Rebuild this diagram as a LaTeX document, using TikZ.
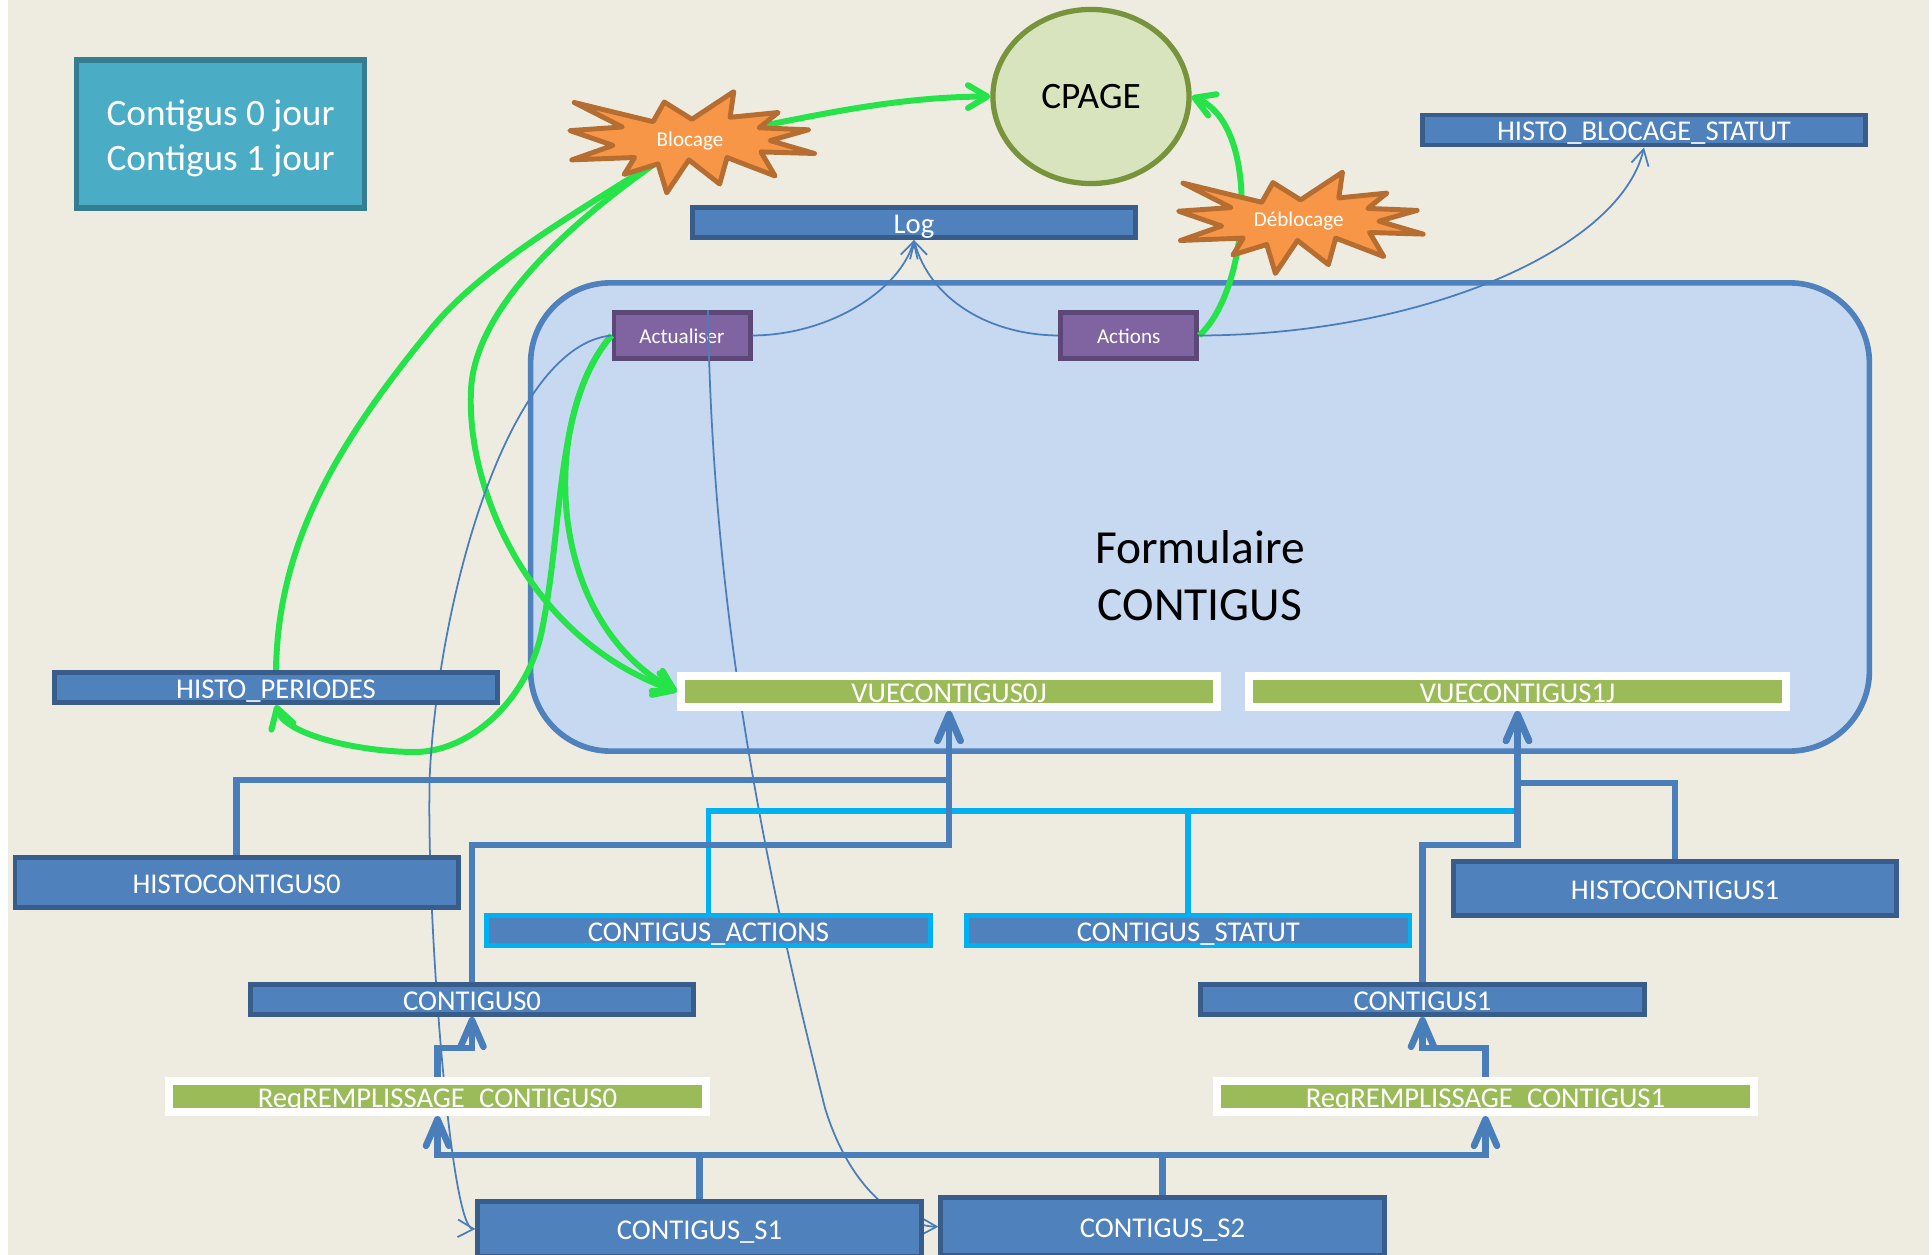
\documentclass[tikz,border=0pt]{standalone}
\usepackage{fontspec}
\setmainfont{Carlito}
\usetikzlibrary{arrows.meta, shapes.geometric}
\definecolor{pagebg}{HTML}{EEECE1}
\definecolor{boxblue}{HTML}{4F81BD}
\definecolor{boxline}{HTML}{385D8A}
\definecolor{wireblue}{HTML}{4A7EBB}
\definecolor{formfill}{HTML}{C6D9F1}
\definecolor{skyline}{HTML}{00B0F0}
\definecolor{viewgreen}{HTML}{9BBB59}
\definecolor{arrowgreen}{HTML}{27E34A}
\definecolor{purplefill}{HTML}{8064A2}
\definecolor{purpleline}{HTML}{5C4776}
\definecolor{tealfill}{HTML}{4BACC6}
\definecolor{tealline}{HTML}{357D91}
\definecolor{burstfill}{HTML}{F79646}
\definecolor{burstline}{HTML}{B66D31}
\definecolor{cpagefill}{HTML}{D7E4BD}
\definecolor{cpageline}{HTML}{77933C}
\tikzset{
  tablebox/.style={rectangle, draw=boxline, fill=boxblue, line width=1.4pt, text=white, inner sep=0pt,
    minimum width=4.43cm, minimum height=.30cm, text height=6.4pt, text depth=.4pt, font=\fontsize{8.15}{9.5}\selectfont},
  bigbox/.style={tablebox, minimum height=#1},
  skybox/.style={tablebox, draw=skyline},
  viewbox/.style={tablebox, draw=white, fill=viewgreen, line width=2.3pt, minimum width=5.36cm, minimum height=.31cm},
  formbox/.style={tablebox, draw=purpleline, fill=purplefill, minimum width=1.36cm,
    minimum height=.46cm, text height=5.1pt, text depth=.5pt, font=\fontsize{6}{7.5}\selectfont},
  bursttext/.style={text=white, inner sep=0pt, text height=4pt, text depth=.5pt, font=\fontsize{6}{7}\selectfont},
  thickwire/.style={draw=wireblue, line width=1.9pt, -{Straight Barb[length=7.5pt,width=6.5pt,round]}},
  busline/.style={draw=wireblue, line width=1.9pt},
  skywire/.style={draw=skyline, line width=1.7pt},
  thinwire/.style={draw=wireblue, line width=.5pt, -{Straight Barb[length=4.5pt,width=5pt]}},
  greenline/.style={draw=arrowgreen, line width=1.7pt},
  greenwire/.style={greenline, -{Straight Barb[length=5.5pt,width=6.5pt,round]}}
}
\pgfdeclarelayer{base}
\pgfdeclarelayer{wires}
\pgfsetlayers{base,wires,main}

\begin{document}
\begin{tikzpicture}[x=.01cm,y=-.01cm]
\tikzset{
  burst/.pic={\filldraw[draw=burstline, fill=burstfill, line width=1.4pt, line join=round]
    (-115.8,-37.5) -- (-36.9,-18.3) -- (-25.8,-38) -- (1.9,-20.7) -- (43.8,-48.4) -- (40.1,-22.7)
    -- (88.2,-27.5) -- (69.1,-12.2) -- (118.4,-10.2) -- (80.2,.6) -- (124.5,13.5) -- (70.9,11.9)
    -- (85.1,36) -- (37,17.5) -- (29.7,44) -- (-1.2,19.9) -- (-23.3,52.8) -- (-32,23.9)
    -- (-65.8,34.4) -- (-55.4,17.5) -- (-118.2,19.9) -- (-77,5.4) -- (-120.1,-9.4) -- (-67.7,-13) -- cycle;}
}
\useasboundingbox (0,0) rectangle (1932,1255);

\begin{pgfonlayer}{base}
\fill[pagebg] (8,0) rectangle (1929,1255);
\node[draw=boxblue, fill=formfill, line width=1.6pt, rounded corners=.8cm, minimum width=13.38cm, minimum height=4.68cm] (form) at (1200,517) {};
\node[formbox] (actualiser) at (682,335.5) {Actualiser};
\node[formbox] (actions) at (1128.7,335.5) {Actions};
\end{pgfonlayer}

\node[font=\fontsize{13.5}{16.2}\selectfont, align=center] (formtext) at (1200,575.5) {Formulaire\\CONTIGUS};
\node[rectangle, draw=tealline, fill=tealfill, line width=1.5pt, inner sep=0pt,
  minimum width=2.88cm, minimum height=1.48cm] (legend) at (220.6,134) {};
\node[text=white, align=center, font=\fontsize{10.6}{12.8}\selectfont] (legendtext) at (220.6,138) {Contigus 0 jour\\Contigus 1 jour};
\node[ellipse, draw=cpageline, fill=cpagefill, line width=1.5pt, inner sep=0pt, minimum width=1.96cm, minimum height=1.74cm,
  text height=6.6pt, text depth=0pt, font=\fontsize{10.6}{12}\selectfont] (cpage) at (1091,96.5) {CPAGE};

\pic at (690,140) {burst};
\node[bursttext] (blocage) at (690,140) {Blocage};
\pic at (1298.7,220.6) {burst};
\node[bursttext] (deblocage) at (1298.7,220.6) {Déblocage};

\node[tablebox] (log) at (914,222.5) {Log};
\node[tablebox] (histoblocage) at (1644,130) {HISTO\_BLOCAGE\_STATUT};
\node[tablebox] (histoperiodes) at (276,687.5) {HISTO\_PERIODES};
\node[viewbox] (vue0) at (949,691.5) {VUECONTIGUS0J};
\node[viewbox] (vue1) at (1517.5,691.5) {VUECONTIGUS1J};
\node[bigbox=.50cm] (histo0) at (236.6,882.5) {HISTOCONTIGUS0};
\node[bigbox=.54cm] (histo1) at (1675,888.5) {HISTOCONTIGUS1};
\node[skybox] (tblactions) at (708.5,930.5) {CONTIGUS\_ACTIONS};
\node[skybox] (tblstatut) at (1188.4,930.5) {CONTIGUS\_STATUT};
\node[tablebox] (contigus0) at (472,999.5) {CONTIGUS0};
\node[tablebox] (contigus1) at (1422.5,999.5) {CONTIGUS1};
\node[viewbox] (req0) at (437.5,1096.5) {ReqREMPLISSAGE\_CONTIGUS0};
\node[viewbox] (req1) at (1485.5,1096.5) {ReqREMPLISSAGE\_CONTIGUS1};
\node[bigbox=.55cm] (s1) at (699.5,1229) {CONTIGUS\_S1};
\node[bigbox=.58cm] (s2) at (1162.5,1226.7) {CONTIGUS\_S2};

\begin{pgfonlayer}{wires}
\draw[greenwire] (blocage.center) .. controls (790,122) and (880,97) .. (cpage.west);
\draw[greenline] (blocage.center) .. controls (600,200) and (490,257) .. (431,329)
  .. controls (340,440) and (278,540) .. (histoperiodes.north);
\draw[greenwire] (blocage.center) .. controls (590,205) and (475,300) .. (471,390)
  .. controls (466,490) and (530,640) .. (vue0.west);
\draw[greenwire] (actualiser.west) .. controls (540,420) and (545,620) .. (vue0.west);
\draw[greenwire] (actualiser.west) .. controls (555,400) and (564,520) .. (542,630)
  .. controls (528,700) and (470,752) .. (415,752)
  .. controls (360,752) and (285,735) .. (histoperiodes.south);
\draw[greenwire] (actions.east) .. controls (1250,290) and (1262,125) .. (cpage.east);

\draw[thinwire] (actualiser.east) .. controls (830,335) and (900,290) .. (log.south);
\draw[thinwire] (actions.west) .. controls (990,335) and (930,300) .. (log.south);
\draw[thinwire] (actions.east) .. controls (1420,335) and (1620,250) .. (histoblocage.south);
\draw[thinwire] (actualiser.west) .. controls (510,345) and (440,590) .. (430,770)
  .. controls (425,900) and (450,1228) .. (s1.west);
\draw[thinwire] ([xshift=.26cm]actualiser.north) .. controls (712,600) and (760,850) .. (825,1108)
  .. controls (850,1190) and (900,1226) .. (s2.west);
\end{pgfonlayer}

\draw[skywire] (tblactions.north) |- (vue1.south |- 0,811);
\draw[skywire] (tblstatut.north) -- (tblstatut.north |- 0,811);

\draw[thickwire] (histo0.north) |- (vue0.south |- 0,780) -- (vue0.south);
\draw[thickwire] (contigus0.north) |- (vue0.south |- 0,845) -- (vue0.south);
\draw[thickwire] (contigus1.north) |- (vue1.south |- 0,845) -- (vue1.south);
\draw[thickwire] (histo1.north) |- (vue1.south |- 0,783) -- (vue1.south);
\draw[thickwire] (req0.north) |- (contigus0.south |- 0,1048) -- (contigus0.south);
\draw[thickwire] (req1.north) |- (contigus1.south |- 0,1048) -- (contigus1.south);
\draw[thickwire] (s1.north) |- (req0.south |- 0,1155) -- (req0.south);
\draw[thickwire] (s1.north) |- (req1.south |- 0,1155) -- (req1.south);
\draw[busline] (s2.north) -- (s2.north |- 0,1155);
\end{tikzpicture}
\end{document}
